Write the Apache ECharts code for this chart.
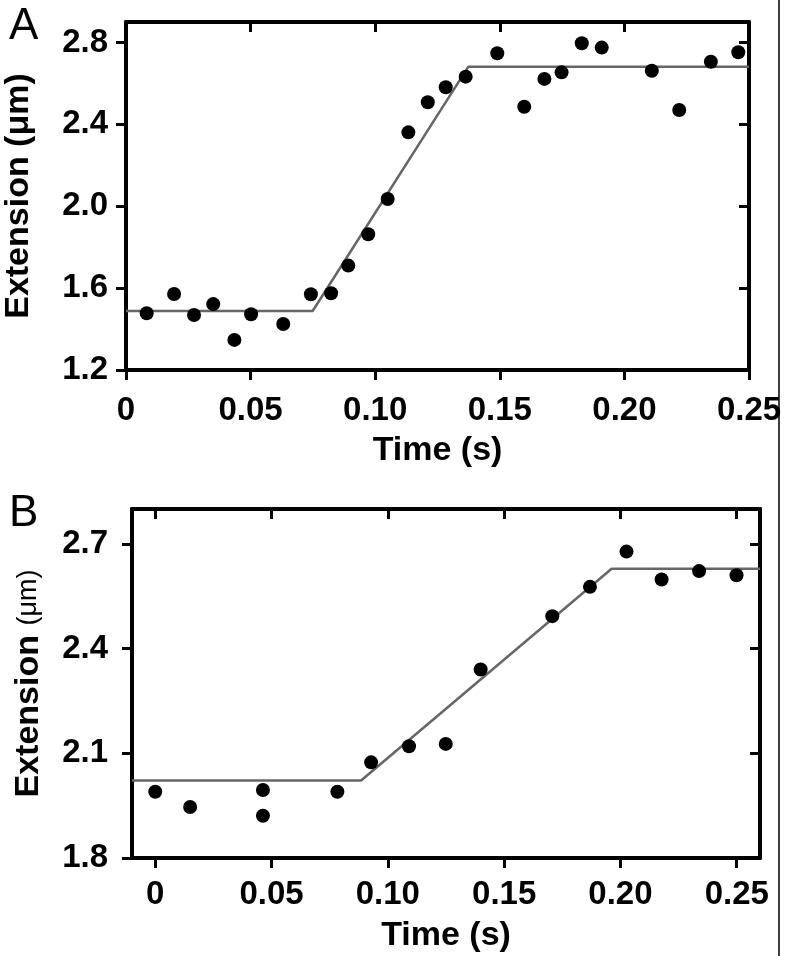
<!DOCTYPE html>
<html>
<head>
<meta charset="utf-8">
<script src="https://cdn.jsdelivr.net/npm/echarts@6/dist/echarts.min.js"></script>
<style>
html,body{margin:0;padding:0;background:#fff;}
#chart{width:786px;height:956px;}
</style>
</head>
<body>
<div id="chart"></div>
<script>
// ---- Panel A data ----
const aTime = [0.0083,0.0193,0.0273,0.0350,0.0435,0.0502,0.0631,0.0742,0.0823,0.0892,0.0972,0.1050,0.1133,0.1211,0.1283,0.1363,0.1490,0.1598,0.1679,0.1748,0.1829,0.1909,0.2110,0.2220,0.2347,0.2457];
const aExt  = [1.477,1.571,1.469,1.522,1.347,1.472,1.425,1.570,1.575,1.710,1.863,2.035,2.361,2.508,2.581,2.633,2.747,2.486,2.622,2.654,2.796,2.775,2.662,2.470,2.706,2.752];
const aFitT = [0, 0.0749, 0.1374, 0.25];
const aFitE = [1.488, 1.488, 2.682, 2.682];
const aXTicks = [0, 0.05, 0.10, 0.15, 0.20, 0.25];
const aXLabels = ['0','0.05','0.10','0.15','0.20','0.25'];
const aYTicks = [1.2, 1.6, 2.0, 2.4, 2.8];
const aYLabels = ['1.2','1.6','2.0','2.4','2.8'];

// ---- Panel B data ----
const bTime = [0.0000,0.0150,0.0463,0.0463,0.0783,0.0928,0.1091,0.1249,0.1399,0.1707,0.1869,0.2026,0.2177,0.2338,0.2499];
const bExt  = [1.990,1.946,1.995,1.921,1.990,2.074,2.120,2.127,2.340,2.493,2.577,2.678,2.598,2.622,2.610];
const bFitT = [-0.01, 0.0885, 0.1962, 0.26];
const bFitE = [2.022, 2.022, 2.629, 2.629];
const bXTicks = [0, 0.05, 0.10, 0.15, 0.20, 0.25];
const bXLabels = ['0','0.05','0.10','0.15','0.20','0.25'];
const bYTicks = [1.8, 2.1, 2.4, 2.7];
const bYLabels = ['1.8','2.1','2.4','2.7'];

const FONT = '"Liberation Sans", Arial, Helvetica, sans-serif';
const chart = echarts.init(document.getElementById('chart'), null, {renderer:'canvas'});

function labelFor(ticks, labels){
  return function(v){
    for (let i=0;i<ticks.length;i++){ if (Math.abs(ticks[i]-v) < 1e-9) return labels[i]; }
    return '';
  };
}
const lineW = 4;
function axisBase(gridIndex, position, min, max, ticks, labels, showLabel, inside, margin){
  return {
    type:'value', gridIndex, position, min, max,
    axisLine:{show:true, onZero:false, lineStyle:{color:'#000', width:lineW}},
    axisTick:{show:true, inside, length:10, customValues:ticks, lineStyle:{color:'#000', width:3}},
    axisLabel:{show:showLabel, customValues:ticks, formatter:labelFor(ticks, labels), margin,
      fontFamily:FONT, fontWeight:'bold', fontSize:33, color:'#000'},
    splitLine:{show:false}
  };
}
const nameStyle = {fontFamily:FONT, fontWeight:'bold', fontSize:34, color:'#000'};

const xA = axisBase(0,'bottom',0,0.25,aXTicks,aXLabels,true,false,24);
xA.name = 'Time (s)'; xA.nameLocation='middle'; xA.nameGap=64;
xA.nameTextStyle = nameStyle;
const xA2 = axisBase(0,'top',0,0.25,aXTicks,aXLabels,false,true,0);
const yA = axisBase(0,'left',1.2,2.9,aYTicks,aYLabels,true,false,18);
yA.name = 'Extension (\u03bcm)'; yA.nameLocation='middle'; yA.nameGap=90;
yA.nameTextStyle = nameStyle;
const yA2 = axisBase(0,'right',1.2,2.9,aYTicks,aYLabels,false,true,0);

const xB = axisBase(1,'bottom',-0.01,0.26,bXTicks,bXLabels,true,false,20);
xB.name = 'Time (s)'; xB.nameLocation='middle'; xB.nameGap=61;
xB.nameTextStyle = nameStyle;
const xB2 = axisBase(1,'top',-0.01,0.26,bXTicks,bXLabels,false,true,0);
const yB = axisBase(1,'left',1.8,2.8,bYTicks,bYLabels,true,false,24);
yB.name = '{b|Extension} {s|(\u03bcm)}'; yB.nameLocation='middle'; yB.nameGap=86;
yB.nameTextStyle = {fontFamily:FONT, fontSize:34, color:'#000', rich:{
  b:{fontFamily:FONT, fontWeight:'bold', fontSize:34, color:'#000'},
  s:{fontFamily:FONT, fontWeight:'normal', fontSize:27, color:'#000'}
}};
const yB2 = axisBase(1,'right',1.8,2.8,bYTicks,bYLabels,false,true,0);

function zip(a,b){ return a.map((v,i)=>[v,b[i]]); }

chart.setOption({
  animation:false,
  backgroundColor:'#fff',
  title:[
    {text:'A', left:4, top:0, textStyle:{fontFamily:FONT, fontWeight:'normal', fontSize:44, color:'#000'}},
    {text:'B', left:4, top:487, textStyle:{fontFamily:FONT, fontWeight:'normal', fontSize:44, color:'#000'}}
  ],
  grid:[
    {left:126, top:22, width:623, height:348, containLabel:false, outerBoundsMode:'none'},
    {left:132, top:509, width:628, height:349, containLabel:false, outerBoundsMode:'none'}
  ],
  xAxis:[xA, xA2, xB, xB2],
  yAxis:[yA, yA2, yB, yB2],
  graphic:[
    {type:'line', shape:{x1:779, y1:0, x2:779, y2:956}, style:{stroke:'#000', lineWidth:1.5}}
  ],
  series:[
    {type:'line', xAxisIndex:0, yAxisIndex:0, data:zip(aFitT,aFitE), symbol:'none',
      lineStyle:{color:'#666', width:2.5}, z:2},
    {type:'scatter', xAxisIndex:0, yAxisIndex:0, data:zip(aTime,aExt), symbol:'circle', symbolSize:14,
      itemStyle:{color:'#000', opacity:1}, clip:false, z:3},
    {type:'line', xAxisIndex:2, yAxisIndex:2, data:zip(bFitT,bFitE), symbol:'none',
      lineStyle:{color:'#666', width:2.5}, z:2},
    {type:'scatter', xAxisIndex:2, yAxisIndex:2, data:zip(bTime,bExt), symbol:'circle', symbolSize:14,
      itemStyle:{color:'#000', opacity:1}, clip:false, z:3}
  ]
});
</script>
</body>
</html>
